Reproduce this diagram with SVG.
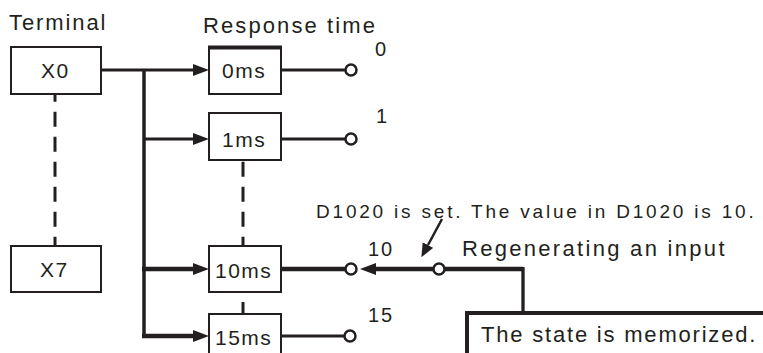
<svg xmlns="http://www.w3.org/2000/svg" width="763" height="353" viewBox="0 0 763 353">
<style>
  text { font-family: "Liberation Sans", Arial, sans-serif; fill: #231f20; }
  .title { font-size: 22px; letter-spacing: 1.9px; }
  .lbl { font-size: 21px; letter-spacing: 1.5px; }
  .num { font-size: 20px; letter-spacing: 1.8px; }
  .note { font-size: 19px; letter-spacing: 2.8px; }
  .big { font-size: 22px; letter-spacing: 2.3px; }
  .box { fill: #fff; stroke: #231f20; stroke-width: 2; }
  .ln { fill: none; stroke: #231f20; stroke-width: 3; }
  .thick { fill: none; stroke: #231f20; stroke-width: 4.5; }
  .dash { fill: none; stroke: #231f20; stroke-width: 3; stroke-dasharray: 15 10; }
  .term { fill: #fff; stroke: #231f20; stroke-width: 2.5; }
</style>
<defs>
  <marker id="arr" markerUnits="userSpaceOnUse" markerWidth="17" markerHeight="13" refX="0" refY="6" orient="auto">
    <path d="M0,0 L16,6 L0,12 Z" fill="#231f20"/>
  </marker>
  <marker id="arrs" markerUnits="userSpaceOnUse" markerWidth="15" markerHeight="13" refX="0" refY="6" orient="auto">
    <path d="M0,0 L14,6 L0,12 Z" fill="#231f20"/>
  </marker>
</defs>

<text class="title" x="9" y="30">Terminal</text>
<text class="title" x="203" y="33" style="letter-spacing:2.1px">Response time</text>

<g id="connectors">
  <line class="dash" x1="55" y1="94" x2="55" y2="246" stroke-dashoffset="7.3"/>
  <line class="dash" x1="243" y1="161.7" x2="243" y2="246"/>
  <line class="ln" x1="243" y1="302" x2="243" y2="314"/>
  <line class="ln" x1="144" y1="70" x2="144" y2="338" style="stroke-width:3.5"/>
  <line class="ln" x1="101" y1="70" x2="193" y2="70" marker-end="url(#arr)"/>
  <line class="ln" x1="144" y1="139" x2="193" y2="139" marker-end="url(#arr)"/>
  <line class="thick" x1="142" y1="269" x2="193" y2="269" marker-end="url(#arr)"/>
  <line class="thick" x1="142" y1="336" x2="193" y2="336" marker-end="url(#arr)"/>
  <line class="ln" x1="281" y1="70" x2="345.5" y2="70"/>
  <line class="ln" x1="281" y1="139" x2="345.5" y2="139"/>
  <line class="thick" x1="281" y1="269" x2="345.5" y2="269"/>
  <line class="ln" x1="281" y1="336" x2="344.5" y2="336"/>
  <line class="thick" x1="433.5" y1="269" x2="376" y2="269" marker-end="url(#arr)"/>
  <polyline class="thick" points="444.5,269 523,269"/>
  <line class="ln" x1="523" y1="267" x2="523" y2="313" style="stroke-width:3.3"/>
  <line class="ln" x1="442" y1="219" x2="428" y2="245" style="stroke-width:2.5" marker-end="url(#arrs)"/>
</g>

<g id="node-x0">
  <rect class="box" x="11" y="47" width="90" height="47"/>
  <text class="lbl" x="41" y="78">X0</text>
</g>
<g id="node-x7">
  <rect class="box" x="11" y="246" width="90" height="46"/>
  <text class="lbl" x="40" y="277">X7</text>
</g>
<g id="node-0ms">
  <rect class="box" x="209" y="47" width="72" height="47"/>
  <line x1="208" y1="47.5" x2="282" y2="47.5" stroke="#231f20" stroke-width="4"/>
  <text class="lbl" x="222" y="78">0ms</text>
</g>
<g id="node-1ms">
  <rect class="box" x="209" y="113" width="72" height="47"/>
  <text class="lbl" x="222" y="147">1ms</text>
</g>
<g id="node-10ms">
  <rect class="box" x="209" y="246" width="72" height="46"/>
  <text class="lbl" x="215" y="278">10ms</text>
</g>
<g id="node-15ms">
  <rect class="box" x="209" y="314" width="72" height="60"/>
  <text class="lbl" x="215" y="345">15ms</text>
</g>

<g id="terminal-0">
  <circle class="term" cx="351" cy="70" r="5.5"/>
  <text class="num" x="375" y="56">0</text>
</g>
<g id="terminal-1">
  <circle class="term" cx="351" cy="139" r="5.5"/>
  <text class="num" x="376" y="123">1</text>
</g>
<g id="terminal-10">
  <circle class="term" cx="351" cy="269" r="5.5"/>
  <text class="num" x="368" y="256">10</text>
</g>
<g id="terminal-15">
  <circle class="term" cx="350" cy="336" r="5.5"/>
  <text class="num" x="368" y="322">15</text>
</g>
<g id="regen-point">
  <circle class="term" cx="439" cy="269" r="5.5"/>
</g>

<g id="note-d1020">
  <text class="note" x="316" y="218">D1020 is set. The value in D1020 is 10.</text>
</g>
<g id="label-regen">
  <text class="big" x="462" y="256">Regenerating an input</text>
</g>
<g id="node-memorized">
  <rect x="467" y="313" width="320" height="60" fill="#fff" stroke="#231f20" stroke-width="4"/>
  <text class="big" x="481" y="342" style="letter-spacing:1.8px">The state is memorized.</text>
</g>
</svg>
